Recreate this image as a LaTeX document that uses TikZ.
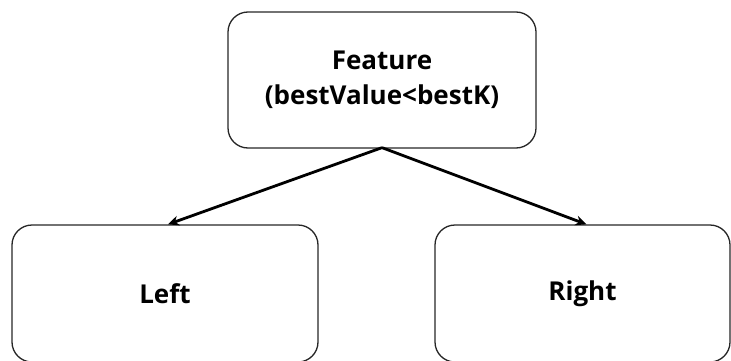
\documentclass[tikz,border=0pt]{standalone}
\usepackage{fontspec}
\setmainfont{Open Sans}[BoldFont={Open Sans Bold}]
\usetikzlibrary{arrows.meta}
\begin{document}
\begin{tikzpicture}[x=1pt,y=1pt,
  box/.style={draw=black!85, line width=1.3pt, rounded corners=20pt, align=center,
    font=\fontsize{26}{34.5}\selectfont\bfseries, inner sep=0pt},
  conn/.style={line width=2.8pt, -{Stealth[length=11pt,width=10pt]}}]
\useasboundingbox (0,0) rectangle (731,360);
\node[box, minimum width=308pt, minimum height=136pt] (feat) at (382,280) {\raisebox{-2pt}{Feature}\\\raisebox{-2pt}{(bestValue<bestK)}};
\node[box, minimum width=306pt, minimum height=137pt] (left) at (165,66.5) {Left};
\node[box, minimum width=295pt, minimum height=137pt] (right) at (582.5,66.5) {Right};
\draw[conn] ([yshift=1pt]feat.south) -- ([xshift=3pt]left.north);
\draw[conn] ([yshift=1pt]feat.south) -- ([xshift=4pt]right.north);
\end{tikzpicture}
\end{document}
